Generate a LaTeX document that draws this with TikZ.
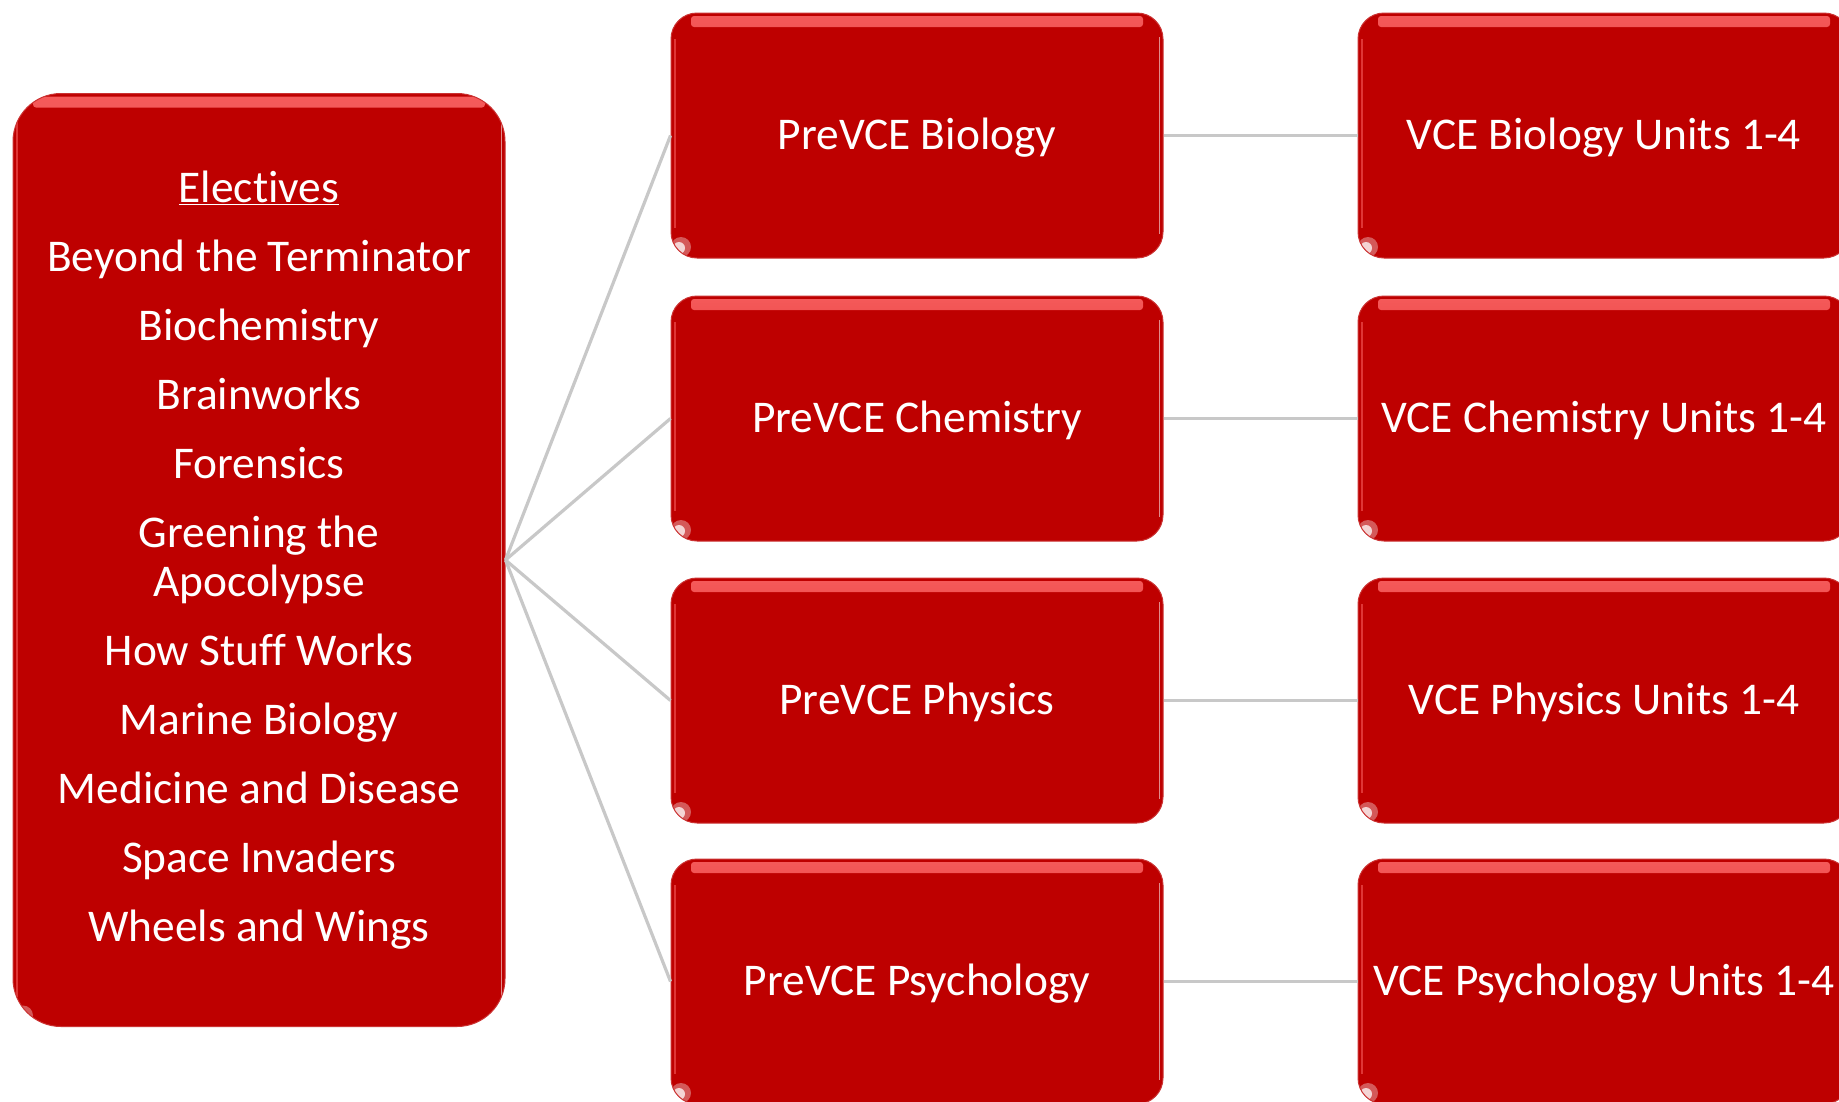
\documentclass[tikz,border=0pt]{standalone}
\usepackage{fontspec}
\setmainfont[Ligatures={NoCommon,NoContextual}]{Carlito}
\definecolor{boxred}{HTML}{BE0000}
\definecolor{hilite}{HTML}{F55A5A}
\definecolor{linegray}{HTML}{C8C8C8}
\tikzset{
  gloss/.style={fill=boxred, draw=boxred!80!white, line width=1pt, text=white, align=center,
    font=\fontsize{45.4}{49}\selectfont, inner sep=0pt,
    path picture={
      \shade[draw=none, top color=hilite, bottom color=boxred, rounded corners=3pt]
        ([xshift=20pt,yshift=-3pt]path picture bounding box.north west) rectangle
        ([xshift=-20pt,yshift=-14pt]path picture bounding box.north east);
      \draw[white, opacity=0.55, line width=1.5pt, sharp corners]
        ([xshift=-3.5pt,yshift=-24pt]path picture bounding box.north east) --
        ([xshift=-3.5pt,yshift=24pt]path picture bounding box.south east);
      \draw[hilite, opacity=0.6, line width=2pt, sharp corners]
        ([xshift=4pt,yshift=-26pt]path picture bounding box.north west) --
        ([xshift=4pt,yshift=30pt]path picture bounding box.south west);
      \fill[draw=none, white, opacity=0.35]
        ([xshift=10pt,yshift=11pt]path picture bounding box.south west) circle (10pt);
      \fill[draw=none, white, opacity=0.75]
        ([xshift=8pt,yshift=10pt]path picture bounding box.south west) circle (6pt);
    }},
  midbox/.style={gloss, rounded corners=26pt, minimum width=492pt, minimum height=245pt,
    text height=31pt, text depth=3pt},
  bigbox/.style={gloss, rounded corners=48pt, minimum width=492pt, minimum height=933pt},
  conn/.style={draw=linegray, line width=3.2pt}
}
\begin{document}
\begin{tikzpicture}[x=1pt,y=-1pt]
\useasboundingbox (0,0) rectangle (1839,1101);
\clip (0,0) rectangle (1839,1101);
\node[bigbox] (el) at (259,560) {\underline{Electives}\\[20pt]
Beyond the Terminator\\[20pt]
Biochemistry\\[20pt]
Brainworks\\[20pt]
Forensics\\[20pt]
Greening the\\
Apocolypse\\[20pt]
How Stuff Works\\[20pt]
Marine Biology\\[20pt]
Medicine and Disease\\[20pt]
Space Invaders\\[20pt]
Wheels and Wings};
\node[midbox] (pb) at (917,135.5) {PreVCE Biology};
\node[midbox] (pc) at (917,418.5) {PreVCE Chemistry};
\node[midbox] (pp) at (917,700.5) {PreVCE Physics};
\node[midbox] (ps) at (917,981.5) {PreVCE Psychology};
\node[midbox] (vb) at (1604,135.5) {VCE Biology Units 1-4};
\node[midbox] (vc) at (1604,418.5) {VCE Chemistry Units 1-4};
\node[midbox] (vp) at (1604,700.5) {VCE Physics Units 1-4};
\node[midbox] (vs) at (1604,981.5) {VCE Psychology Units 1-4};
\draw[conn] (el.east) -- (pb.west);
\draw[conn] (el.east) -- (pc.west);
\draw[conn] (el.east) -- (pp.west);
\draw[conn] (el.east) -- (ps.west);
\draw[conn] (pb.east) -- (vb.west);
\draw[conn] (pc.east) -- (vc.west);
\draw[conn] (pp.east) -- (vp.west);
\draw[conn] (ps.east) -- (vs.west);
\end{tikzpicture}
\end{document}
